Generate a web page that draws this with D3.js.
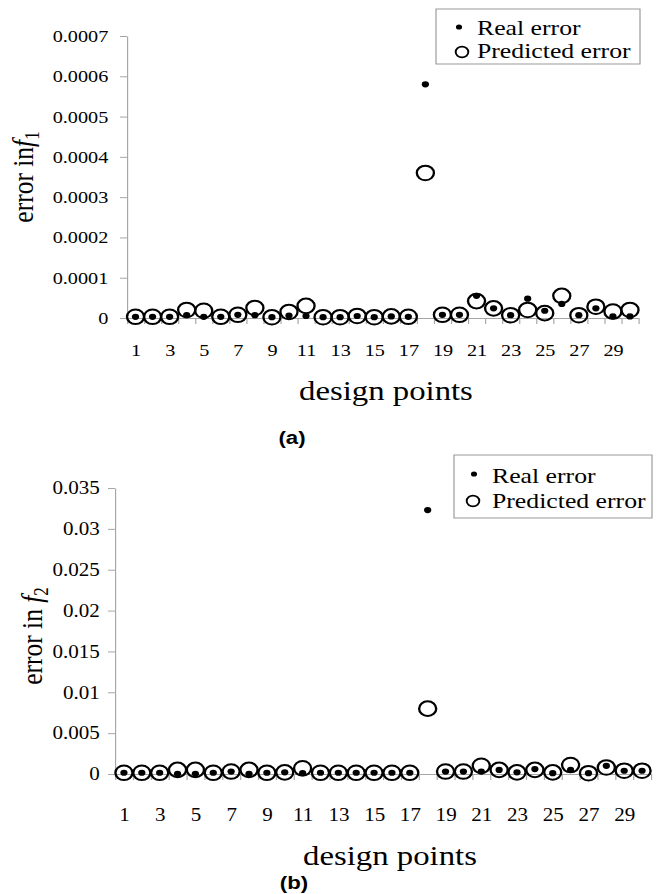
<!DOCTYPE html>
<html>
<head>
<meta charset="utf-8">
<script src="https://cdn.jsdelivr.net/npm/d3@7"></script>
<style>
body { margin: 0; background: #fff; }
svg text { font-family: "Liberation Serif", "Times New Roman", serif; fill: #000; }
</style>
</head>
<body>
<svg id="fig" width="661" height="894"></svg>
<script>
// design points 1..30
var points = [1,2,3,4,5,6,7,8,9,10,11,12,13,14,15,16,17,18,19,20,21,22,23,24,25,26,27,28,29,30];
var xLabels = [1,3,5,7,9,11,13,15,17,19,21,23,25,27,29];

// (a) error in f1
var realA = [0.000003,0.000003,0.000003,0.000007,0.000003,0.000003,0.000008,0.000007,0.000002,0.000006,
             0.000005,0.000002,0.000002,0.000005,0.000002,0.000004,0.000003,0.00058,0.000008,0.000008,
             0.000055,0.000024,0.000007,0.000048,0.000018,0.000035,0.000007,0.000024,0.000004,0.000004];
var predA = [0.000003,0.000003,0.000003,0.00002,0.000018,0.000003,0.000008,0.000025,0.000002,0.000015,
             0.00003,0.000002,0.000002,0.000005,0.000002,0.000004,0.000003,0.00036,0.000008,0.000008,
             0.000042,0.000024,0.000007,0.00002,0.000012,0.000055,0.000007,0.000028,0.000016,0.00002];
var yTicksA = [0, 0.0001, 0.0002, 0.0003, 0.0004, 0.0005, 0.0006, 0.0007];

// (b) error in f2
var realB = [0.00015,0.00015,0.00015,0.00001,0.00002,0.00015,0.0003,0.00002,0.00015,0.0002,
             0.0001,0.00015,0.00015,0.00015,0.00015,0.00015,0.00015,0.0323,0.0003,0.0003,
             0.0003,0.0005,0.0002,0.0006,0.0001,0.0005,0.0001,0.001,0.0004,0.0004];
var predB = [0.00015,0.00015,0.00015,0.0005,0.0005,0.00015,0.0003,0.0005,0.00015,0.0002,
             0.0007,0.00015,0.00015,0.00015,0.00015,0.00015,0.00015,0.008,0.0003,0.0003,
             0.001,0.0005,0.0002,0.0005,0.0002,0.0011,0.0001,0.0008,0.0004,0.0004];
var yTicksB = [0, 0.005, 0.01, 0.015, 0.02, 0.025, 0.03, 0.035];

// the scanned figure is stretched horizontally
var SX = 1.17;
var AXIS = "#a6a6a6";

var svg = d3.select("#fig");
var root = svg.append("g").attr("transform", "scale(" + SX + ",1)");

function fmt(d) { return d === 0 ? "0" : String(+d.toFixed(5)); }

function drawPanel(p) {
    var x = d3.scaleLinear().domain([0.5, 30.5]).range([p.left / SX, p.right / SX]);
    var y = d3.scaleLinear().domain([0, p.yMax]).range([p.bottom, p.top]);
    var g = root.append("g");

    // y axis
    var ya = g.append("g")
        .attr("transform", "translate(" + x(0.5) + ",0)")
        .call(d3.axisLeft(y).tickValues(p.yTicks).tickSize(6).tickSizeOuter(0)
            .tickPadding(p.yPad).tickFormat(fmt));
    ya.selectAll("text").attr("font-size", p.tickFont);

    // x axis: ticks between categories
    g.append("g")
        .attr("transform", "translate(0," + y(0) + ")")
        .call(d3.axisBottom(x).tickValues(d3.range(0.5, 31)).tickSize(6).tickSizeOuter(0).tickFormat(""));

    // x labels on odd points
    var xl = g.append("g")
        .attr("transform", "translate(0," + y(0) + ")")
        .call(d3.axisBottom(x).tickValues(xLabels).tickSize(0).tickPadding(p.xPad));
    xl.select(".domain").remove();
    xl.selectAll("text").attr("font-size", p.tickFont);

    g.selectAll(".domain, .tick line").attr("stroke", AXIS);
    g.selectAll(".tick text").attr("fill", "#000").attr("font-family", null);

    // predicted error (open circles)
    g.selectAll("circle.pred").data(p.pred).enter().append("circle")
        .attr("class", "pred")
        .attr("cx", function(d, i) { return x(points[i]); })
        .attr("cy", function(d) { return y(d); })
        .attr("r", 7.3)
        .attr("fill", "none")
        .attr("stroke", "#000")
        .attr("stroke-width", 2);

    // real error (dots)
    g.selectAll("circle.real").data(p.real).enter().append("circle")
        .attr("class", "real")
        .attr("cx", function(d, i) { return x(points[i]); })
        .attr("cy", function(d) { return y(d); })
        .attr("r", 3.1)
        .attr("fill", "#000");

    // y title
    var t = g.append("text")
        .attr("transform", "translate(" + (p.yTitleX / SX) + "," + p.yTitleY + ") rotate(-90)")
        .attr("text-anchor", "middle")
        .attr("font-size", 25.5);
    t.append("tspan").text(p.yTitle);
    t.append("tspan").attr("font-style", "italic").text("f");
    t.append("tspan").attr("font-size", 17).attr("dy", 5).text(p.sub);

    // x title
    g.append("text")
        .attr("x", p.xTitleX / SX).attr("y", p.xTitleY)
        .attr("text-anchor", "middle")
        .attr("font-size", 28)
        .text("design points");

    // caption
    g.append("text")
        .attr("x", p.capX / SX).attr("y", p.capY)
        .attr("text-anchor", "middle")
        .attr("font-size", 19)
        .style("font-family", "'Liberation Sans', Arial, sans-serif")
        .style("font-weight", "bold")
        .text(p.cap);

    // legend
    var L = p.legend;
    var lg = g.append("g");
    lg.append("rect")
        .attr("x", L.x / SX).attr("y", L.y)
        .attr("width", L.w / SX).attr("height", L.h)
        .attr("fill", "#fff").attr("stroke", "#999").attr("stroke-width", 1);
    lg.append("circle")
        .attr("cx", L.dotX / SX).attr("cy", L.dotY).attr("r", 2.6).attr("fill", "#000");
    lg.append("circle")
        .attr("cx", L.circX / SX).attr("cy", L.circY).attr("r", 5.4)
        .attr("fill", "none").attr("stroke", "#000").attr("stroke-width", 1.6);
    lg.append("text").attr("x", L.textX / SX).attr("y", L.base1).attr("font-size", 22).text("Real error");
    lg.append("text").attr("x", L.textX / SX).attr("y", L.base2).attr("font-size", 22).text("Predicted error");
}

drawPanel({
    left: 127, right: 638.5, top: 36, bottom: 318,
    yMax: 0.0007, yTicks: yTicksA, yPad: 10, xPad: 26, tickFont: 17.3,
    real: realA, pred: predA,
    yTitle: "error in", sub: "1", yTitleX: 33, yTitleY: 177,
    xTitleX: 386, xTitleY: 400,
    cap: "(a)", capX: 292, capY: 444,
    legend: { x: 436, y: 9, w: 204, h: 55, dotX: 459, dotY: 27, circX: 462, circY: 52,
              textX: 477, base1: 35, base2: 58 }
});

drawPanel({
    left: 115, right: 651, top: 488, bottom: 774,
    yMax: 0.035, yTicks: yTicksB, yPad: 7, xPad: 34, tickFont: 18,
    real: realB, pred: predB,
    yTitle: "error in ", sub: "2", yTitleX: 42, yTitleY: 636,
    xTitleX: 390, xTitleY: 865,
    cap: "(b)", capX: 294, capY: 889,
    legend: { x: 454, y: 455, w: 198, h: 63, dotX: 474, dotY: 474, circX: 473, circY: 501,
              textX: 492, base1: 483, base2: 508 }
});
</script>
</body>
</html>
